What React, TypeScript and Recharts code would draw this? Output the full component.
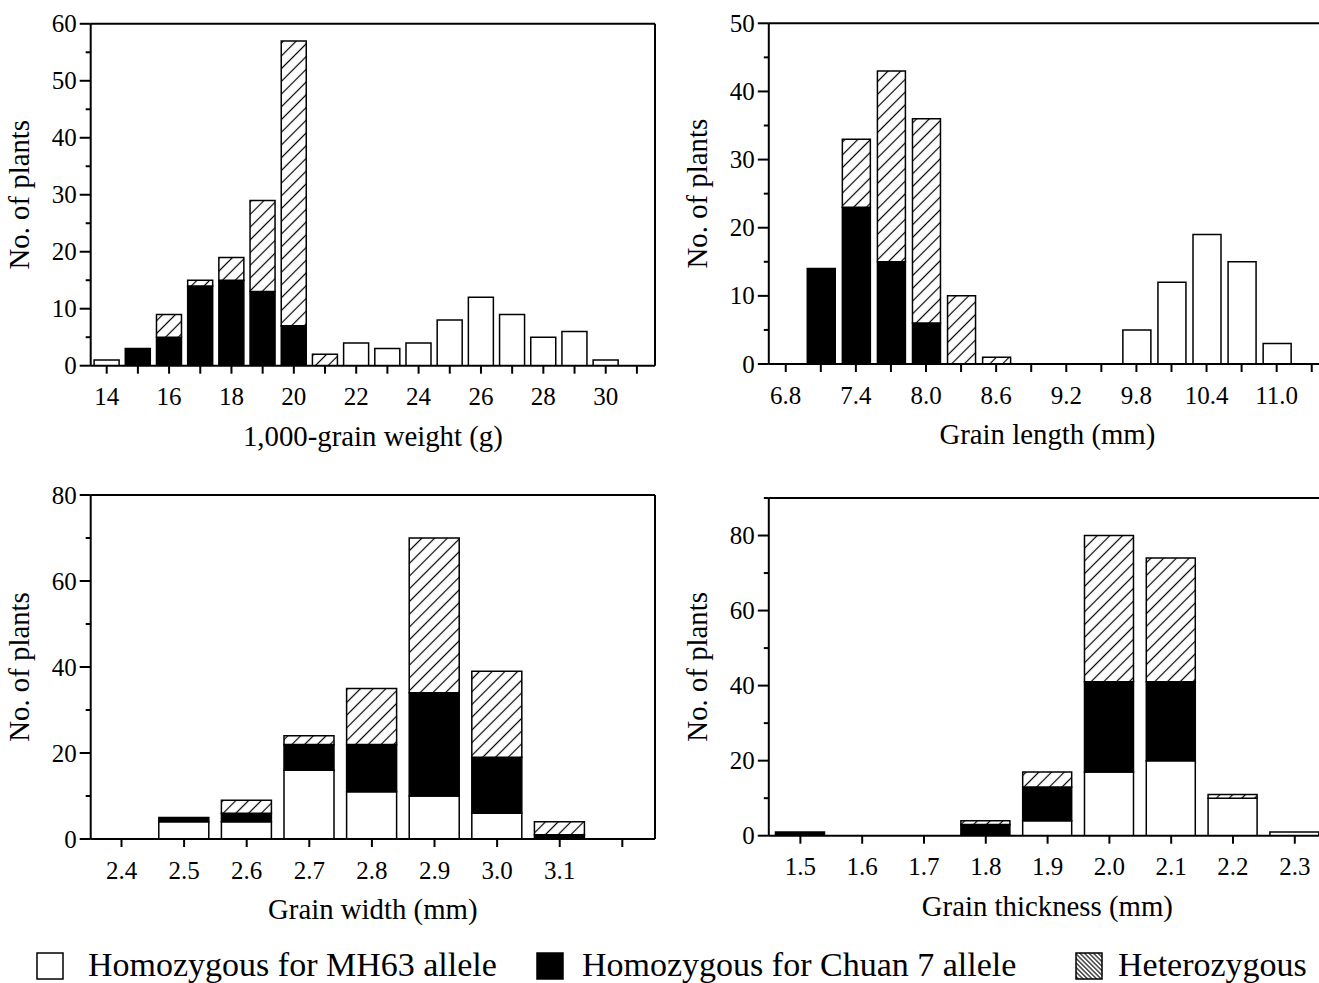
import React from 'react';
import { BarChart, Bar, XAxis, YAxis, Label, ReferenceLine } from 'recharts';

const FONT = "'Liberation Serif', 'Times New Roman', Times, serif";

// ---------- Panel 1: 1,000-grain weight (g) ----------
const weightBins = [14, 15, 16, 17, 18, 19, 20, 21, 22, 23, 24, 25, 26, 27, 28, 29, 30];
const weightMH63 = [1, 0, 0, 0, 0, 0, 0, 0, 4, 3, 4, 8, 12, 9, 5, 6, 1];
const weightChuan7 = [0, 3, 5, 14, 15, 13, 7, 0, 0, 0, 0, 0, 0, 0, 0, 0, 0];
const weightHet = [0, 0, 4, 1, 4, 16, 50, 2, 0, 0, 0, 0, 0, 0, 0, 0, 0];
const weightTicks = [14, 15, 16, 17, 18, 19, 20, 21, 22, 23, 24, 25, 26, 27, 28, 29, 30, 31];
const weightTickLabels = ['14', '', '16', '', '18', '', '20', '', '22', '', '24', '', '26', '', '28', '', '30', ''];
const weightCountTicks = [0, 5, 10, 15, 20, 25, 30, 35, 40, 45, 50, 55, 60];

// ---------- Panel 2: Grain length (mm) ----------
const lengthBins = [7.1, 7.4, 7.7, 8.0, 8.3, 8.6, 8.9, 9.2, 9.5, 9.8, 10.1, 10.4, 10.7, 11.0];
const lengthMH63 = [0, 0, 0, 0, 0, 0, 0, 0, 0, 5, 12, 19, 15, 3];
const lengthChuan7 = [14, 23, 15, 6, 0, 0, 0, 0, 0, 0, 0, 0, 0, 0];
const lengthHet = [0, 10, 28, 30, 10, 1, 0, 0, 0, 0, 0, 0, 0, 0];
const lengthTicks = [6.8, 7.1, 7.4, 7.7, 8.0, 8.3, 8.6, 8.9, 9.2, 9.5, 9.8, 10.1, 10.4, 10.7, 11.0, 11.3];
const lengthTickLabels = ['6.8', '', '7.4', '', '8.0', '', '8.6', '', '9.2', '', '9.8', '', '10.4', '', '11.0', ''];
const lengthCountTicks = [0, 5, 10, 15, 20, 25, 30, 35, 40, 45, 50];

// ---------- Panel 3: Grain width (mm) ----------
const widthBins = [2.4, 2.5, 2.6, 2.7, 2.8, 2.9, 3.0, 3.1];
const widthMH63 = [0, 4, 4, 16, 11, 10, 6, 0];
const widthChuan7 = [0, 1, 2, 6, 11, 24, 13, 1];
const widthHet = [0, 0, 3, 2, 13, 36, 20, 3];
const widthTicks = [2.4, 2.5, 2.6, 2.7, 2.8, 2.9, 3.0, 3.1, 3.2];
const widthTickLabels = ['2.4', '2.5', '2.6', '2.7', '2.8', '2.9', '3.0', '3.1', ''];
const widthCountTicks = [0, 10, 20, 30, 40, 50, 60, 70, 80];

// ---------- Panel 4: Grain thickness (mm) ----------
const thickBins = [1.5, 1.6, 1.7, 1.8, 1.9, 2.0, 2.1, 2.2, 2.3];
const thickMH63 = [0, 0, 0, 0, 4, 17, 20, 10, 1];
const thickChuan7 = [1, 0, 0, 3, 9, 24, 21, 0, 0];
const thickHet = [0, 0, 0, 1, 4, 39, 33, 1, 0];
const thickTicks = [1.5, 1.6, 1.7, 1.8, 1.9, 2.0, 2.1, 2.2, 2.3];
const thickTickLabels = ['1.5', '1.6', '1.7', '1.8', '1.9', '2.0', '2.1', '2.2', '2.3'];
const thickCountTicks = [0, 10, 20, 30, 40, 50, 60, 70, 80, 90];

const legendLabels = ['Homozygous for MH63 allele', 'Homozygous for Chuan 7 allele', 'Heterozygous'];

function buildData(bins: number[], a: number[], b: number[], c: number[]) {
  return bins.map((bin, i) => ({ bin, mh63: a[i], chuan7: b[i], het: c[i] }));
}

type PanelProps = {
  left: number;
  top: number;
  width: number;
  height: number;
  plotLeft: number;
  plotTop: number;
  plotRight: number;
  plotBottom: number;
  data: any[];
  xDomain: [number, number];
  xTicks: number[];
  xLabels: string[];
  yMax: number;
  yTicks: number[];
  yMajorStep: number;
  barSize: number;
  xTitle: string;
};

function Panel(p: PanelProps) {
  const YTick = (props: any) => {
    const { x, y, payload } = props;
    const v = payload.value;
    const r = v / p.yMajorStep;
    const major = Math.abs(r - Math.round(r)) < 1e-6;
    return (
      <g>
        <line x1={x} x2={x - (major ? 11 : 5)} y1={y} y2={y} stroke="#000" strokeWidth={2} />
        {major && (
          <text x={x - 14} y={y + 8.5} textAnchor="end" fontSize={25} fontFamily={FONT} fill="#000">
            {v}
          </text>
        )}
      </g>
    );
  };
  const XTick = (props: any) => {
    const { x, y, index } = props;
    const lab = p.xLabels[index];
    return (
      <g>
        <line x1={x} x2={x} y1={y} y2={y + 8} stroke="#000" strokeWidth={2} />
        {lab ? (
          <text x={x} y={y + 39.5} textAnchor="middle" fontSize={25} fontFamily={FONT} fill="#000">
            {lab}
          </text>
        ) : null}
      </g>
    );
  };
  const XTitle = (props: any) => {
    const vb = props.viewBox;
    return (
      <text x={vb.x + vb.width / 2} y={vb.y + 80} textAnchor="middle" fontSize={28.8} fontFamily={FONT} fill="#000">
        {p.xTitle}
      </text>
    );
  };
  const YTitle = (props: any) => {
    const vb = props.viewBox;
    const bx = vb.x + vb.width - 62;
    const cy = vb.y + vb.height / 2;
    return (
      <text
        x={bx}
        y={cy}
        transform={`rotate(-90, ${bx}, ${cy})`}
        textAnchor="middle"
        fontSize={28.8}
        fontFamily={FONT}
        fill="#000"
      >
        No. of plants
      </text>
    );
  };
  const axisStyle = { stroke: '#000', strokeWidth: 2 };
  return (
    <div style={{ position: 'absolute', left: p.left, top: p.top, width: p.width, height: p.height }}>
      <BarChart
        width={p.width}
        height={p.height}
        data={p.data}
        margin={{ top: p.plotTop, right: p.width - p.plotRight, bottom: 0, left: 0 }}
        barGap={0}
      >
        <XAxis
          dataKey="bin"
          type="number"
          domain={p.xDomain}
          allowDataOverflow
          ticks={p.xTicks}
          interval={0}
          height={p.height - p.plotBottom}
          tickSize={0}
          tickMargin={0}
          tickLine={false}
          tick={XTick}
          axisLine={axisStyle}
        >
          <Label content={XTitle} />
        </XAxis>
        <YAxis
          type="number"
          domain={[0, p.yMax]}
          allowDataOverflow
          ticks={p.yTicks}
          interval={0}
          width={p.plotLeft}
          tickSize={0}
          tickMargin={0}
          tickLine={false}
          tick={YTick}
          axisLine={axisStyle}
        >
          <Label content={YTitle} />
        </YAxis>
        <ReferenceLine y={p.yMax} stroke="#000" strokeWidth={2} ifOverflow="visible" />
        <ReferenceLine x={p.xDomain[1]} stroke="#000" strokeWidth={2} ifOverflow="visible" />
        <Bar dataKey="mh63" stackId="s" fill="#fff" stroke="#000" strokeWidth={1.5} barSize={p.barSize} isAnimationActive={false} />
        <Bar dataKey="chuan7" stackId="s" fill="#000" stroke="#000" strokeWidth={1.5} barSize={p.barSize} isAnimationActive={false} />
        <Bar dataKey="het" stackId="s" fill="url(#hatchBar)" stroke="#000" strokeWidth={1.5} barSize={p.barSize} isAnimationActive={false} />
      </BarChart>
    </div>
  );
}

function Legend() {
  const items = [
    { box: 37, text: 88, fill: '#fff' },
    { box: 537, text: 582, fill: '#000' },
    { box: 1076, text: 1118, fill: 'url(#hatchLegend)' },
  ];
  return (
    <svg width={1319} height={53} style={{ position: 'absolute', left: 0, top: 930 }}>
      {items.map((it, i) => (
        <g key={i}>
          <rect x={it.box} y={23} width={26} height={26} fill={it.fill} stroke="#000" strokeWidth={1.5} />
          <text x={it.text} y={45.5} fontSize={34} fontFamily={FONT} fill="#000">
            {legendLabels[i]}
          </text>
        </g>
      ))}
    </svg>
  );
}

export default function App() {
  return (
    <div style={{ position: 'absolute', left: 0, top: 0, width: 1319, height: 983, overflow: 'hidden', background: '#fff' }}>
      <svg width={0} height={0} style={{ position: 'absolute' }}>
        <defs>
          <pattern id="hatchBar" patternUnits="userSpaceOnUse" width={9} height={9} patternTransform="rotate(45)">
            <rect x={0} y={0} width={9} height={9} fill="#fff" />
            <line x1={4.5} y1={0} x2={4.5} y2={9} stroke="#000" strokeWidth={1.2} />
          </pattern>
          <pattern id="hatchLegend" patternUnits="userSpaceOnUse" width={3.2} height={3.2} patternTransform="rotate(-45)">
            <rect x={0} y={0} width={3.2} height={3.2} fill="#fff" />
            <line x1={1.6} y1={0} x2={1.6} y2={3.2} stroke="#000" strokeWidth={1.1} />
          </pattern>
        </defs>
      </svg>
      <Panel
        left={0}
        top={0}
        width={660}
        height={470}
        plotLeft={90.7}
        plotTop={23.8}
        plotRight={655}
        plotBottom={365.7}
        data={buildData(weightBins, weightMH63, weightChuan7, weightHet)}
        xDomain={[13.487, 31.58]}
        xTicks={weightTicks}
        xLabels={weightTickLabels}
        yMax={60}
        yTicks={weightCountTicks}
        yMajorStep={10}
        barSize={25}
        xTitle="1,000-grain weight (g)"
      />
      <Panel
        left={660}
        top={0}
        width={670}
        height={470}
        plotLeft={108.8}
        plotTop={23.3}
        plotRight={666}
        plotBottom={364}
        data={buildData(lengthBins, lengthMH63, lengthChuan7, lengthHet)}
        xDomain={[6.655, 11.422]}
        xTicks={lengthTicks}
        xLabels={lengthTickLabels}
        yMax={50}
        yTicks={lengthCountTicks}
        yMajorStep={10}
        barSize={28}
        xTitle="Grain length (mm)"
      />
      <Panel
        left={0}
        top={470}
        width={660}
        height={470}
        plotLeft={90.7}
        plotTop={25}
        plotRight={655}
        plotBottom={369}
        data={buildData(widthBins, widthMH63, widthChuan7, widthHet)}
        xDomain={[2.3508, 3.2522]}
        xTicks={widthTicks}
        xLabels={widthTickLabels}
        yMax={80}
        yTicks={widthCountTicks}
        yMajorStep={20}
        barSize={50}
        xTitle="Grain width (mm)"
      />
      <Panel
        left={660}
        top={470}
        width={670}
        height={470}
        plotLeft={108.8}
        plotTop={28}
        plotRight={666}
        plotBottom={365.7}
        data={buildData(thickBins, thickMH63, thickChuan7, thickHet)}
        xDomain={[1.4489, 2.3505]}
        xTicks={thickTicks}
        xLabels={thickTickLabels}
        yMax={90}
        yTicks={thickCountTicks}
        yMajorStep={20}
        barSize={49}
        xTitle="Grain thickness (mm)"
      />
      <Legend />
    </div>
  );
}
